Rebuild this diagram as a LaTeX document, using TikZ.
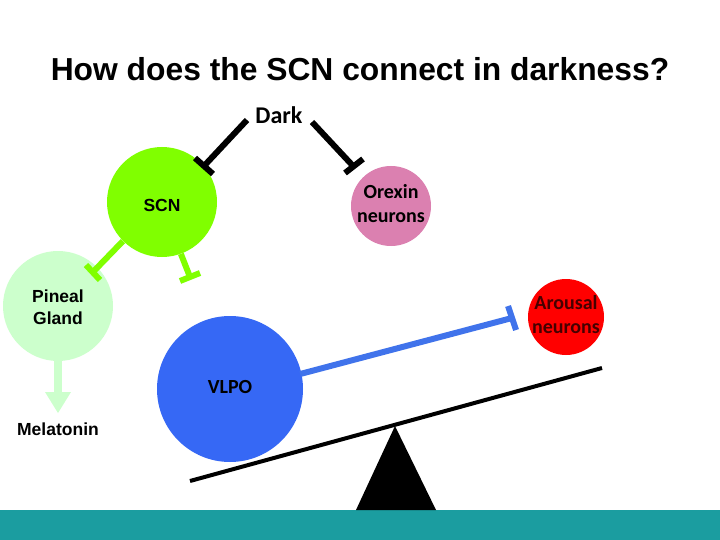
\documentclass[tikz,border=0pt]{standalone}
\usepackage{fontspec}
\setmainfont{Liberation Sans}
\newfontfamily\calib{Carlito}
\definecolor{scngreen}{RGB}{128,255,0}
\definecolor{pinealgreen}{RGB}{204,255,204}
\definecolor{orexpink}{RGB}{219,128,176}
\definecolor{vlpoblue}{RGB}{54,104,245}
\definecolor{lineblue}{RGB}{64,115,235}
\definecolor{arousred}{RGB}{255,0,0}
\definecolor{tealbar}{RGB}{27,157,160}
\definecolor{darkred}{RGB}{70,0,0}
\tikzset{
  cell/.style={circle, inner sep=0pt},
  arial/.style={font=\bfseries\fontsize{17.5}{22}\selectfont, align=center},
  carl/.style={font=\calib\bfseries\fontsize{20}{24}\selectfont, align=center},
  inhib/.style={line width=6pt},
  tbar/.style={line width=6pt}
}
\begin{document}
\begin{tikzpicture}[x=1pt,y=-1pt]
\useasboundingbox (0,0) rectangle (720,540);
\fill[white] (0,0) rectangle (720,540);
\fill[tealbar] (0,510) rectangle (720,540);
% title
\node (title) at (360,69) {\bfseries\fontsize{31.8}{34}\selectfont How does the SCN connect in darkness?};
\node[carl, font=\calib\bfseries\fontsize{24}{26}\selectfont] (dark) at (279,115) {Dark};
% circles
\node[cell, fill=scngreen, minimum size=110pt] (scn) at (162,202) {};
\node[arial] at (162,205) {SCN};
\node[cell, fill=orexpink, minimum size=80pt] (orex) at (391,206) {};
\node[carl] at (391,204) {Orexin\\neurons};
\node[cell, fill=pinealgreen, minimum size=110pt] (pin) at (58,306) {};
\node[arial] at (58,307) {Pineal\\Gland};
\node[cell, fill=vlpoblue, minimum size=146pt] (vlpo) at (230,389) {};
\node[carl] at (230,387) {VLPO};
\node[cell, fill=arousred, minimum size=76pt] (arous) at (566,317) {};
\node[carl, text=darkred] at (566,315) {Arousal\\neurons};
\node[arial] (mel) at (58,429) {Melatonin};
% Dark inhibitions
\coordinate (d1s) at (247,120);
\coordinate (d1e) at (204,166);
\draw[inhib] (d1s) -- (d1e);
\draw[tbar] (195,158) -- (213,174);
\coordinate (d2s) at (312,122);
\coordinate (d2e) at (354,167);
\draw[inhib] (d2s) -- (d2e);
\draw[tbar] (345,173) -- (363,159);
% SCN to pineal
\coordinate (s1e) at (93,272);
\draw[inhib, scngreen] (scn.225) -- (s1e);
\draw[tbar, scngreen] (86,265) -- (100,280);
\coordinate (s2e) at (190,277);
\draw[inhib, scngreen] (scn.290) -- (s2e);
\draw[tbar, scngreen] (180,281) -- (200,273);
% pineal to melatonin
\coordinate (ph) at (58,394);
\draw[line width=8pt, pinealgreen] (pin.south) -- (ph);
\fill[pinealgreen] (45,392) -- (71,392) -- (58,413) -- cycle;
% VLPO to arousal
\coordinate (ve) at (512,318);
\draw[inhib, lineblue] (vlpo.east) ++(-3,-15) -- (ve);
\draw[tbar, lineblue] (508,306) -- (516,330);
% seesaw
\coordinate (sl) at (190,481);
\coordinate (sr) at (602,368);
\draw[line width=4pt] (sl) -- (sr);
\fill (395,426) -- (436,510) -- (356,510) -- cycle;
\end{tikzpicture}
\end{document}
